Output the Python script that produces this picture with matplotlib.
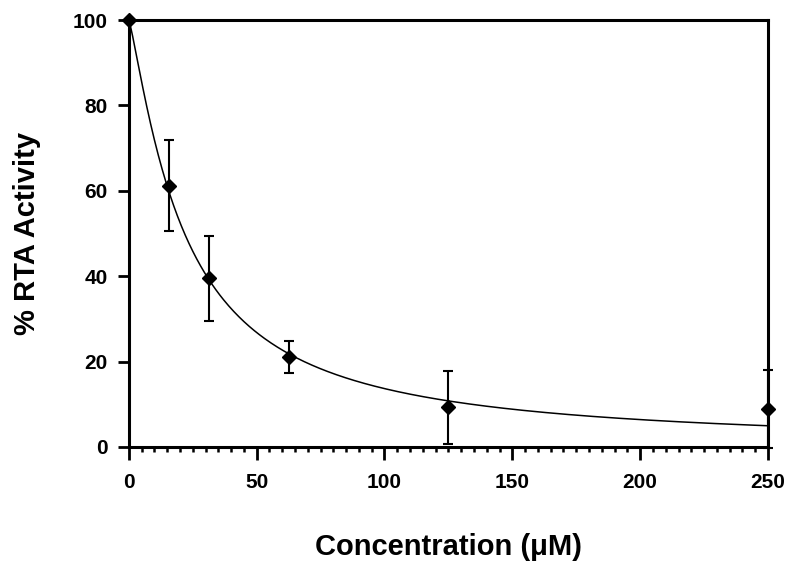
import numpy as np
import matplotlib
matplotlib.use("Agg")
import matplotlib.pyplot as plt
from matplotlib.ticker import MultipleLocator

# measured points (concentration in uM, % activity, error)
conc = [0, 15.6, 31.25, 62.5, 125, 250]
activity = [100, 61.2, 39.5, 21.0, 9.3, 8.9]
err = [0, 10.6, 9.9, 3.7, 8.6, 9.2]

# fitted dose-response curve parameters
top = 100.0
ic50 = 21.8
hill = 1.21

plt.rcParams['font.family'] = ['Liberation Sans', 'DejaVu Sans']
plt.rcParams['font.weight'] = 'bold'

fig = plt.figure(figsize=(8, 5.73), dpi=100)
ax = fig.add_axes([0.161, 0.22, 0.799, 0.745])

xfit = np.linspace(0, 250, 500)
yfit = top / (1 + (xfit / ic50) ** hill)
ax.plot(xfit, yfit, color='black', linewidth=1.1, zorder=2)

ax.errorbar(conc, activity, yerr=err, fmt='none', ecolor='black',
            elinewidth=1.5, capsize=3.6, capthick=1.5, clip_on=False, zorder=3)
ax.plot(conc, activity, linestyle='none', marker='D', markersize=7.5,
        color='black', clip_on=False, zorder=4)

ax.set_xlim(0, 250)
ax.set_ylim(0, 100)
ax.xaxis.set_major_locator(MultipleLocator(50))
ax.xaxis.set_minor_locator(MultipleLocator(5))
ax.yaxis.set_major_locator(MultipleLocator(20))

for s in ax.spines.values():
    s.set_linewidth(2.2)

ax.tick_params(axis='x', which='major', direction='out', length=9, width=2, pad=10, labelsize=15)
ax.tick_params(axis='x', which='minor', direction='out', length=3.6, width=1.8)
ax.tick_params(axis='y', which='major', direction='out', length=8, width=2, pad=7, labelsize=15)

for lab in ax.get_xticklabels() + ax.get_yticklabels():
    lab.set_fontweight('bold')

ax.set_xlabel('Concentration (\u03bcM)', fontsize=21, fontweight='bold', labelpad=29)
ax.set_ylabel('% RTA Activity', fontsize=21, fontweight='bold', labelpad=23)

fig.savefig('out.png', dpi=100)
